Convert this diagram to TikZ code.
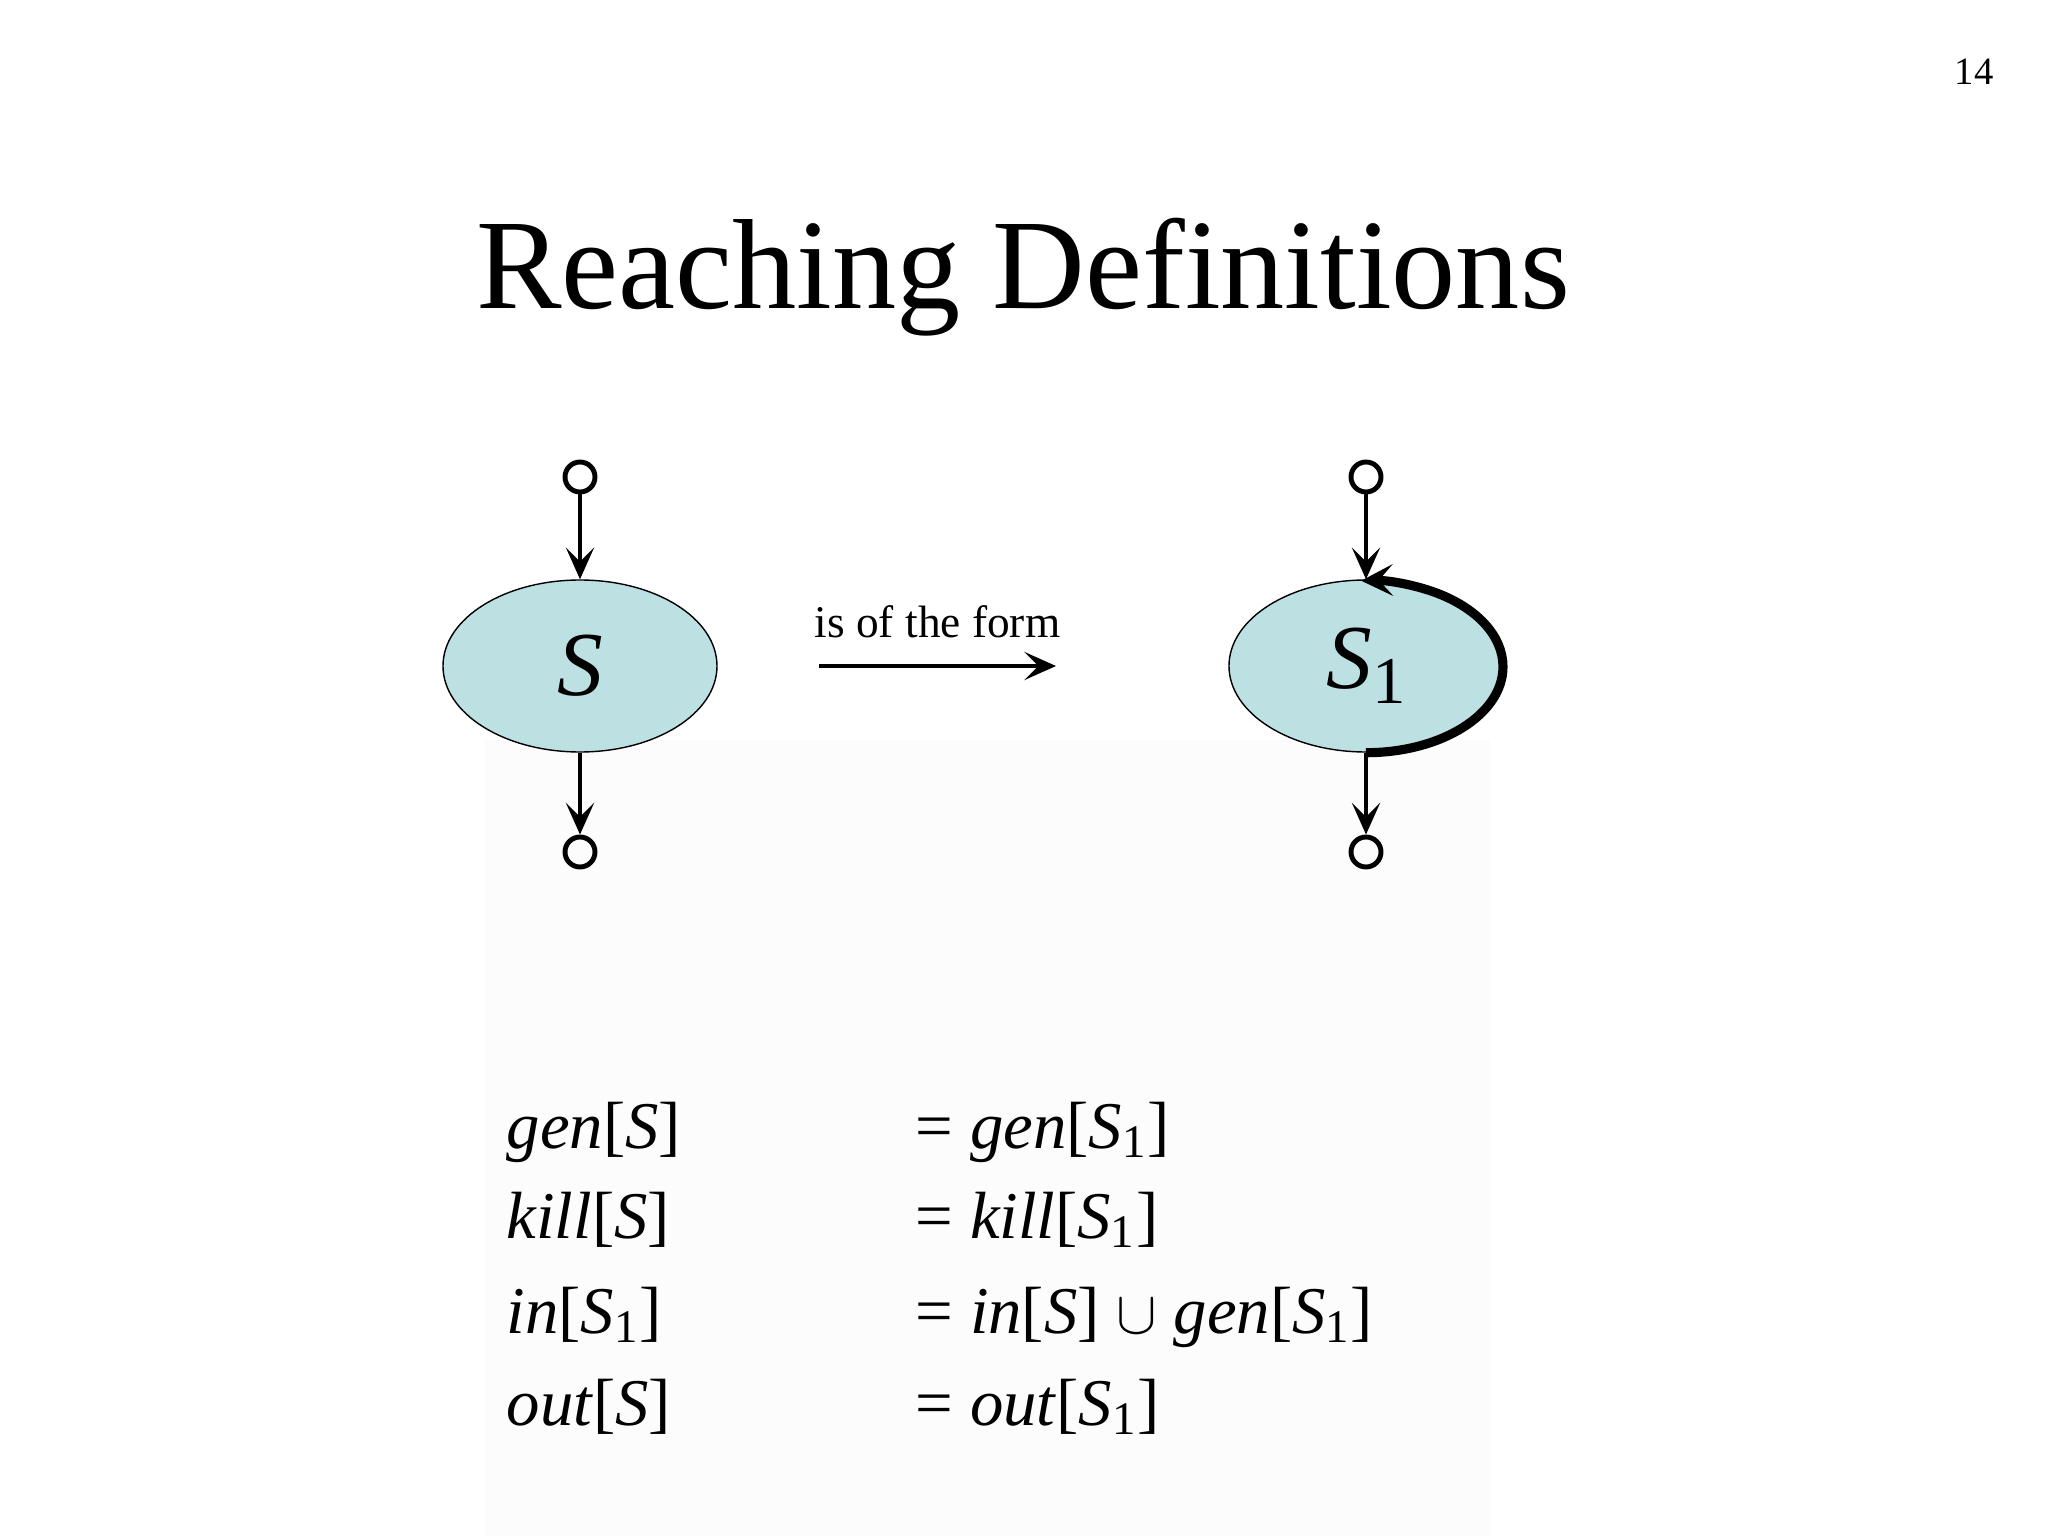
\documentclass[tikz,border=0pt]{standalone}
\usepackage{fontspec}
\setmainfont{Liberation Serif}
\usetikzlibrary{shapes.geometric,arrows.meta}
\definecolor{fillc}{HTML}{BDE0E3}
\begin{document}
\begin{tikzpicture}[
  blob/.style={ellipse,draw,thin,fill=fillc,minimum width=2.74cm,minimum height=1.72cm,inner sep=0pt,font=\fontsize{26}{30}\selectfont\itshape},
  port/.style={circle,draw,line width=1.4pt,minimum size=0.3cm,inner sep=0pt},
  conn/.style={line width=1.4pt,-{Stealth[length=9pt,width=8pt,inset=4pt]}},
  eq/.style={anchor=base west,font=\fontsize{19}{22}\selectfont,inner sep=0pt}
]
\useasboundingbox (0,0) rectangle (20.48,-15.36);
\fill[black!1] (4.85,-7.4) rectangle (14.9,-15.36);
\node at (19.74,-0.72) {\fontsize{11}{13}\selectfont 14};
\node at (10.23,-2.77) {\fontsize{36.5}{40}\selectfont Reaching Definitions};
% left
\node[blob] (s) at (5.80,-6.66) {S};
\node[port] (st) at (5.80,-4.77) {};
\node[port] (sb) at (5.80,-8.52) {};
\draw[conn] (st) -- (s.north);
\draw[conn] (s.south) -- (sb);
% arrow
\node (a1) at (8.19,-6.66) {};
\node (a2) at (10.56,-6.66) {};
\draw[line width=1.4pt,-{Stealth[length=9pt,width=8pt,inset=4pt]}] (a1.center) -- (a2.center) node[midway,above=4pt,font=\fontsize{12.9}{15}\selectfont] {is of the form};
% right
\node[blob] (r) at (13.66,-6.66) {S\raisebox{-0.35ex}{\upshape\fontsize{19}{22}\selectfont 1}};
\node[port] (rt) at (13.66,-4.77) {};
\node[port] (rb) at (13.66,-8.52) {};
\draw[conn] (rt) -- (r.north);
\draw[conn] (r.south) -- (rb);
\draw[line width=2.6pt,-{Stealth[length=9pt,width=9pt,inset=4pt]}] (r.south) arc[start angle=-90,end angle=92,x radius=1.37cm,y radius=0.86cm];
% equations
\node[eq] (e1) at (5.06,-11.48) {\textit{gen}[\textit{S}]};
\node[eq] (e2) at (5.06,-12.38) {\textit{kill}[\textit{S}]};
\node[eq] (e3) at (5.06,-13.33) {\textit{in}[\textit{S}\textsubscript{1}]};
\node[eq] (e4) at (5.06,-14.25) {\textit{out}[\textit{S}]};
\node[eq] (f1) at (9.15,-11.48) {= \textit{gen}[\textit{S}\textsubscript{1}]};
\node[eq] (f2) at (9.15,-12.38) {= \textit{kill}[\textit{S}\textsubscript{1}]};
\node[eq] (f3) at (9.15,-13.33) {= \textit{in}[\textit{S}] $\cup$ \textit{gen}[\textit{S}\textsubscript{1}]};
\node[eq] (f4) at (9.15,-14.25) {= \textit{out}[\textit{S}\textsubscript{1}]};
\end{tikzpicture}
\end{document}
